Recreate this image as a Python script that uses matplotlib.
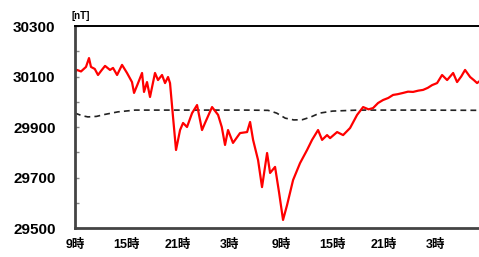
import matplotlib
matplotlib.use('Agg')
import matplotlib.pyplot as plt

# hours since 9時 on day 1, observed total field (nT)
obs_t = [0.0, 0.23, 0.7, 1.28, 1.63, 1.86, 2.3, 2.68, 3.1, 3.5, 4.08, 4.43, 4.9, 5.48,
         6.06, 6.64, 6.88, 7.3, 7.81, 8.04, 8.39, 8.74, 9.32, 9.67, 10.14, 10.49, 10.84,
         11.07, 11.42, 11.77, 12.24, 12.59, 13.05, 13.64, 14.22, 14.8, 15.15, 15.97,
         16.67, 17.1, 17.48, 17.83, 18.41, 19.23, 20.05, 20.4, 20.75, 21.33, 21.79,
         22.38, 22.73, 23.31, 23.78, 24.24, 24.71, 25.41, 26.22, 27.04, 27.62, 28.32,
         28.79, 29.37, 29.72, 30.54, 31.24, 32.05, 32.87, 33.57, 34.2, 34.73, 35.31,
         35.9, 36.5, 37.06, 37.6, 38.23, 38.8, 39.39, 40.0, 40.56, 41.1, 41.61, 42.19,
         42.77, 43.36, 44.06, 44.52, 45.0, 45.45, 46.04, 46.5, 46.85, 47.3]
obs_v = [30118, 30126, 30120, 30138, 30173, 30138, 30130, 30106, 30125, 30142, 30126,
         30134, 30106, 30146, 30114, 30078, 30035, 30070, 30114, 30039, 30078, 30019,
         30114, 30086, 30106, 30074, 30098, 30074, 29940, 29809, 29888, 29916, 29900,
         29955, 29987, 29888, 29916, 29979, 29948, 29900, 29829, 29888, 29837, 29876,
         29880, 29920, 29849, 29769, 29662, 29797, 29718, 29742, 29640, 29532, 29591,
         29690, 29757, 29809, 29849, 29888, 29849, 29868, 29856, 29880, 29868, 29896,
         29948, 29979, 29970, 29975, 29995, 30007, 30015, 30027, 30030, 30035, 30040,
         30039, 30044, 30047, 30055, 30066, 30074, 30106, 30086, 30114, 30078, 30100,
         30126, 30098, 30085, 30074, 30086]

# reference (quiet-day) curve
ref_t = [0, 0.8, 1.5, 2.5, 3.5, 5, 7, 12, 20, 22.5, 23.5, 24.5, 25.5, 26.5, 27.5,
         28.5, 30, 33, 40, 47.5]
ref_v = [29955, 29945, 29940, 29942, 29950, 29960, 29967, 29967, 29967, 29966, 29955,
         29935, 29928, 29929, 29940, 29955, 29963, 29967, 29967, 29966]

tick_hours = [0, 6, 12, 18, 24, 30, 36, 42]
tick_labels = ['9時', '15時', '21時', '3時', '9時', '15時', '21時', '3時']
y_ticks = [29500, 29700, 29900, 30100, 30300]

fig = plt.figure(figsize=(4.79, 2.57), dpi=100)
ax = fig.add_axes([0.1566, 0.1128, 0.86, 0.786])

ax.plot(ref_t, ref_v, color='#222222', linestyle=(0, (3.5, 2.5)), linewidth=1.2)
ax.plot(obs_t, obs_v, color='#ff0000', linewidth=1.6)

ax.set_xlim(0, 48)
ax.set_ylim(29500, 30300)

ax.set_yticks(y_ticks)
ax.set_yticks([29600, 29800, 30000, 30200], minor=True)
ax.set_yticklabels([str(v) for v in y_ticks], fontsize=11, fontweight='bold',
                   family=['Liberation Sans', 'DejaVu Sans'])
ax.tick_params(axis='y', which='both', direction='in', length=3, width=1,
               color='#888888', pad=14)

ax.set_xticks(tick_hours)
ax.set_xticklabels(tick_labels, fontsize=9, fontweight='bold',
                   family=['Liberation Sans', 'Noto Sans CJK JP'])
ax.tick_params(axis='x', direction='in', length=0, pad=8)

for side in ['left', 'bottom']:
    ax.spines[side].set_color('#444444')
    ax.spines[side].set_linewidth(2)
ax.spines['top'].set_color('black')
ax.spines['top'].set_linewidth(1.4)
ax.spines['right'].set_visible(False)

fig.text(0.15, 0.925, '[nT]', fontsize=7, fontweight='bold',
         family=['Liberation Sans', 'DejaVu Sans'])

fig.savefig('out.png', dpi=100)
